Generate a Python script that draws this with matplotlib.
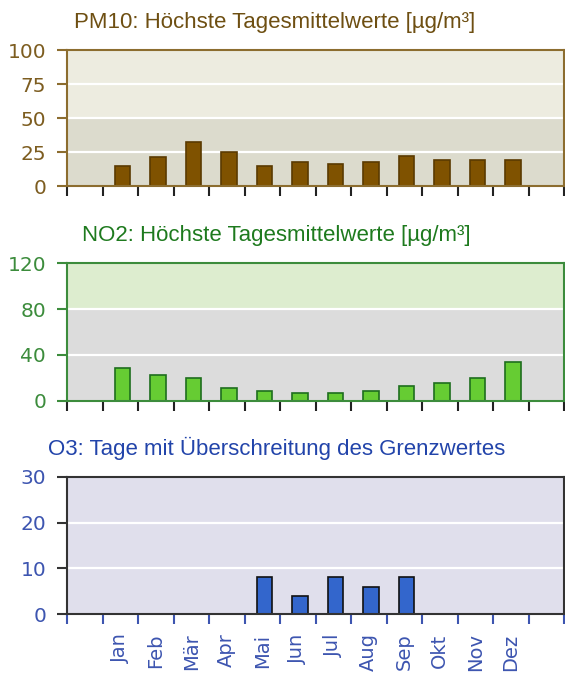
import matplotlib

matplotlib.use('Agg')
import matplotlib.pyplot as plt
import numpy as np

months = ['Jan', 'Feb', 'Mär', 'Apr', 'Mai', 'Jun', 'Jul', 'Aug', 'Sep', 'Okt', 'Nov', 'Dez']
pm10 = [15, 21, 32, 25, 15, 18, 16, 18, 22, 19, 19, 19]
no2 = [29, 23, 20, 11, 9, 7, 7, 9, 13, 16, 20, 34]
o3 = [0, 0, 0, 0, 8, 4, 8, 6, 8, 0, 0, 0]

W, H = 565, 677
fig = plt.figure(figsize=(W / 100, H / 100), dpi=100)
fig.patch.set_facecolor('white')

title_font = 'Liberation Sans'
tick_font = 'DejaVu Sans'

panels = [
    # title, data, ymax, yticks, bands, colours, top/bottom px, title baseline px
    dict(title='PM10: Höchste Tagesmittelwerte [µg/m³]', data=pm10, ymax=100,
         yticks=[0, 25, 50, 75, 100], bands=[(0, 50, '#dcdbcd'), (50, 100, '#edece0')],
         grid=[25, 50, 75], text='#6e4f12', tick='#7d5d20', spine='#8c6d2f',
         face='#7f5200', edge='#5a3a00', xtick='#222222',
         top=50, bottom=186, tb=28, tx=275),
    dict(title='NO2: Höchste Tagesmittelwerte [µg/m³]', data=no2, ymax=120,
         yticks=[0, 40, 80, 120], bands=[(0, 80, '#dcdcdc'), (80, 120, '#ddedcf')],
         grid=[40, 80], text='#1e7a1e', tick='#3c8c3c', spine='#3c8c3c',
         face='#66cc33', edge='#1e6e1e', xtick='#222222',
         top=263, bottom=401, tb=241, tx=276),
    dict(title='O3: Tage mit Überschreitung des Grenzwertes', data=o3, ymax=30,
         yticks=[0, 10, 20, 30], bands=[(0, 30, '#e0dfec')],
         grid=[10, 20], text='#2244aa', tick='#3d55b0', spine='#333333',
         face='#3366cc', edge='#111111', xtick='#3d55b0',
         top=477, bottom=614, tb=455, tx=276.5),
]

left, right = 67, 564
x = np.arange(len(months)) + 1.5

for i, p in enumerate(panels):
    ax = fig.add_axes([left / W, (H - p['bottom']) / H, (right - left) / W,
                       (p['bottom'] - p['top']) / H])
    ax.set_xlim(0, 14)
    ax.set_ylim(0, p['ymax'])
    ax.set_facecolor('none')
    for lo, hi, c in p['bands']:
        ax.axhspan(lo, hi, color=c, zorder=0, lw=0)
    for g in p['grid']:
        ax.axhline(g, color='white', lw=1.6, zorder=1)
    vals = np.array(p['data'], dtype=float)
    mask = vals > 0
    # bars sit a touch right of the label centres in the original
    ax.bar(x[mask] + 0.06, vals[mask], width=0.43, color=p['face'], edgecolor=p['edge'],
           linewidth=1.2, zorder=3)

    for s in ax.spines.values():
        s.set_color(p['spine'])
        s.set_linewidth(1.5)
        s.set_zorder(4)

    ax.set_yticks(p['yticks'])
    ax.tick_params(axis='y', length=7, width=1.5, color=p['spine'], pad=8,
                   labelcolor=p['tick'], labelsize=14.5)
    for lab in ax.get_yticklabels():
        lab.set_fontfamily(tick_font)

    ax.set_xticks(np.arange(0, 15))
    ax.set_xticklabels([])
    ax.tick_params(axis='x', which='major', length=7, width=1.5, color=p['xtick'])
    if i == 2:
        ax.set_xticks(x, minor=True)
        ax.set_xticklabels(months, minor=True, rotation=90, fontsize=14,
                           color=p['tick'], fontfamily=tick_font)
        ax.tick_params(axis='x', which='minor', length=0, pad=14)

    fig.text(p['tx'] / W, 1 - p['tb'] / H, p['title'], ha='center', va='baseline',
             fontsize=16, color=p['text'], fontfamily=title_font)

fig.savefig('out.png', dpi=100)
